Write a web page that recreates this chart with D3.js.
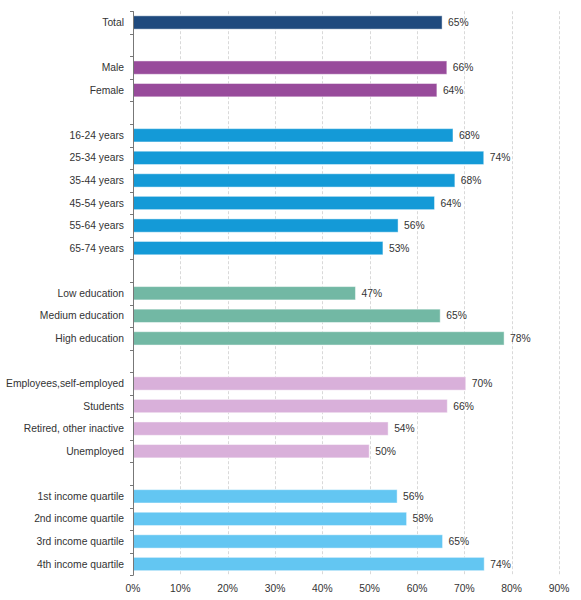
<!DOCTYPE html>
<html>
<head>
<meta charset="utf-8">
<script src="https://cdn.jsdelivr.net/npm/d3@7"></script>
<style>
  html, body { margin: 0; padding: 0; background: #fff; }
  svg { display: block; }
  text { font-family: "Liberation Sans", Arial, sans-serif; fill: #333; }
</style>
</head>
<body>
<svg id="chart" width="581" height="600"></svg>
<script>
// Categories in display order ("" entries are spacer rows between groups)
const categories = [
  "Total", "",
  "Male", "Female", "",
  "16-24 years", "25-34 years", "35-44 years", "45-54 years", "55-64 years", "65-74 years", "",
  "Low education", "Medium education", "High education", "",
  "Employees,self-employed", "Students", "Retired, other inactive", "Unemployed", "",
  "1st income quartile", "2nd income quartile", "3rd income quartile", "4th income quartile"
];
// Values (percent), null for spacer rows
const values = [
  65.3, null,
  66.3, 64.2, null,
  67.6, 74.1, 68.0, 63.7, 56.0, 52.8, null,
  47.0, 64.9, 78.4, null,
  70.3, 66.4, 53.9, 49.9, null,
  55.8, 57.8, 65.4, 74.2
];
// Group of each row (for colour)
const groups = [
  "total", "",
  "sex", "sex", "",
  "age", "age", "age", "age", "age", "age", "",
  "edu", "edu", "edu", "",
  "emp", "emp", "emp", "emp", "",
  "inc", "inc", "inc", "inc"
];
const groupColors = {
  total: "#1f4a7e", sex: "#984b9b", age: "#149ad7",
  edu: "#72b8a4", emp: "#d9b0da", inc: "#63c6f2"
};
const xTicks = [0, 10, 20, 30, 40, 50, 60, 70, 80, 90];

const rows = categories.map((c, i) => ({ key: i, label: c, value: values[i], group: groups[i] }));

const svg = d3.select("#chart");
const mLeft = 133, mRight = 559, mTop = 11.2, mBottom = 575.3;
const fs = "10.3px";

const x = d3.scaleLinear().domain([0, 90]).range([mLeft, mRight]);
const y = d3.scaleBand().domain(rows.map(d => d.key)).range([mTop, mBottom]).paddingInner(0.41).paddingOuter(0.205);

// Gridlines
svg.append("g").selectAll("line").data(xTicks.filter(t => t > 0)).join("line")
  .attr("x1", d => Math.round(x(d)) + 0.5).attr("x2", d => Math.round(x(d)) + 0.5)
  .attr("y1", mTop).attr("y2", mBottom)
  .attr("stroke", "#d9d9d9").attr("stroke-width", 1).attr("stroke-dasharray", "3,2");

// Bars
const barRows = rows.filter(d => d.value !== null);
svg.append("g").selectAll("rect").data(barRows).join("rect")
  .attr("x", x(0))
  .attr("y", d => y(d.key))
  .attr("width", d => x(d.value) - x(0))
  .attr("height", y.bandwidth())
  .attr("fill", d => groupColors[d.group])
  .attr("stroke", "rgba(255,255,255,0.45)")
  .attr("stroke-width", 1);

// Value labels
svg.append("g").selectAll("text").data(barRows).join("text")
  .attr("x", d => x(d.value) + 6)
  .attr("y", d => y(d.key) + y.bandwidth() / 2)
  .attr("dy", "0.35em")
  .attr("font-size", fs)
  .text(d => d3.format(".0f")(d.value) + "%");

// Y axis: line with ticks at band boundaries
const step = y.step();
const yAxisG = svg.append("g");
yAxisG.append("line")
  .attr("x1", mLeft + 0.5).attr("x2", mLeft + 0.5)
  .attr("y1", mTop).attr("y2", mBottom)
  .attr("stroke", "#777");
const boundaries = d3.range(rows.length + 1).map(i => mTop + i * step);
yAxisG.selectAll("line.tick").data(boundaries).join("line")
  .attr("class", "tick")
  .attr("x1", mLeft - 3).attr("x2", mLeft + 0.5)
  .attr("y1", d => Math.round(d) + 0.5).attr("y2", d => Math.round(d) + 0.5)
  .attr("stroke", "#777");

// Category labels
svg.append("g").selectAll("text").data(rows.filter(d => d.label !== "")).join("text")
  .attr("x", mLeft - 9)
  .attr("y", d => y(d.key) + y.bandwidth() / 2)
  .attr("dy", "0.35em")
  .attr("text-anchor", "end")
  .attr("font-size", fs)
  .text(d => d.label);

// X axis labels
svg.append("g").selectAll("text").data(xTicks).join("text")
  .attr("x", d => x(d))
  .attr("y", 588)
  .attr("dy", "0.35em")
  .attr("text-anchor", "middle")
  .attr("font-size", fs)
  .text(d => d + "%");
</script>
</body>
</html>
